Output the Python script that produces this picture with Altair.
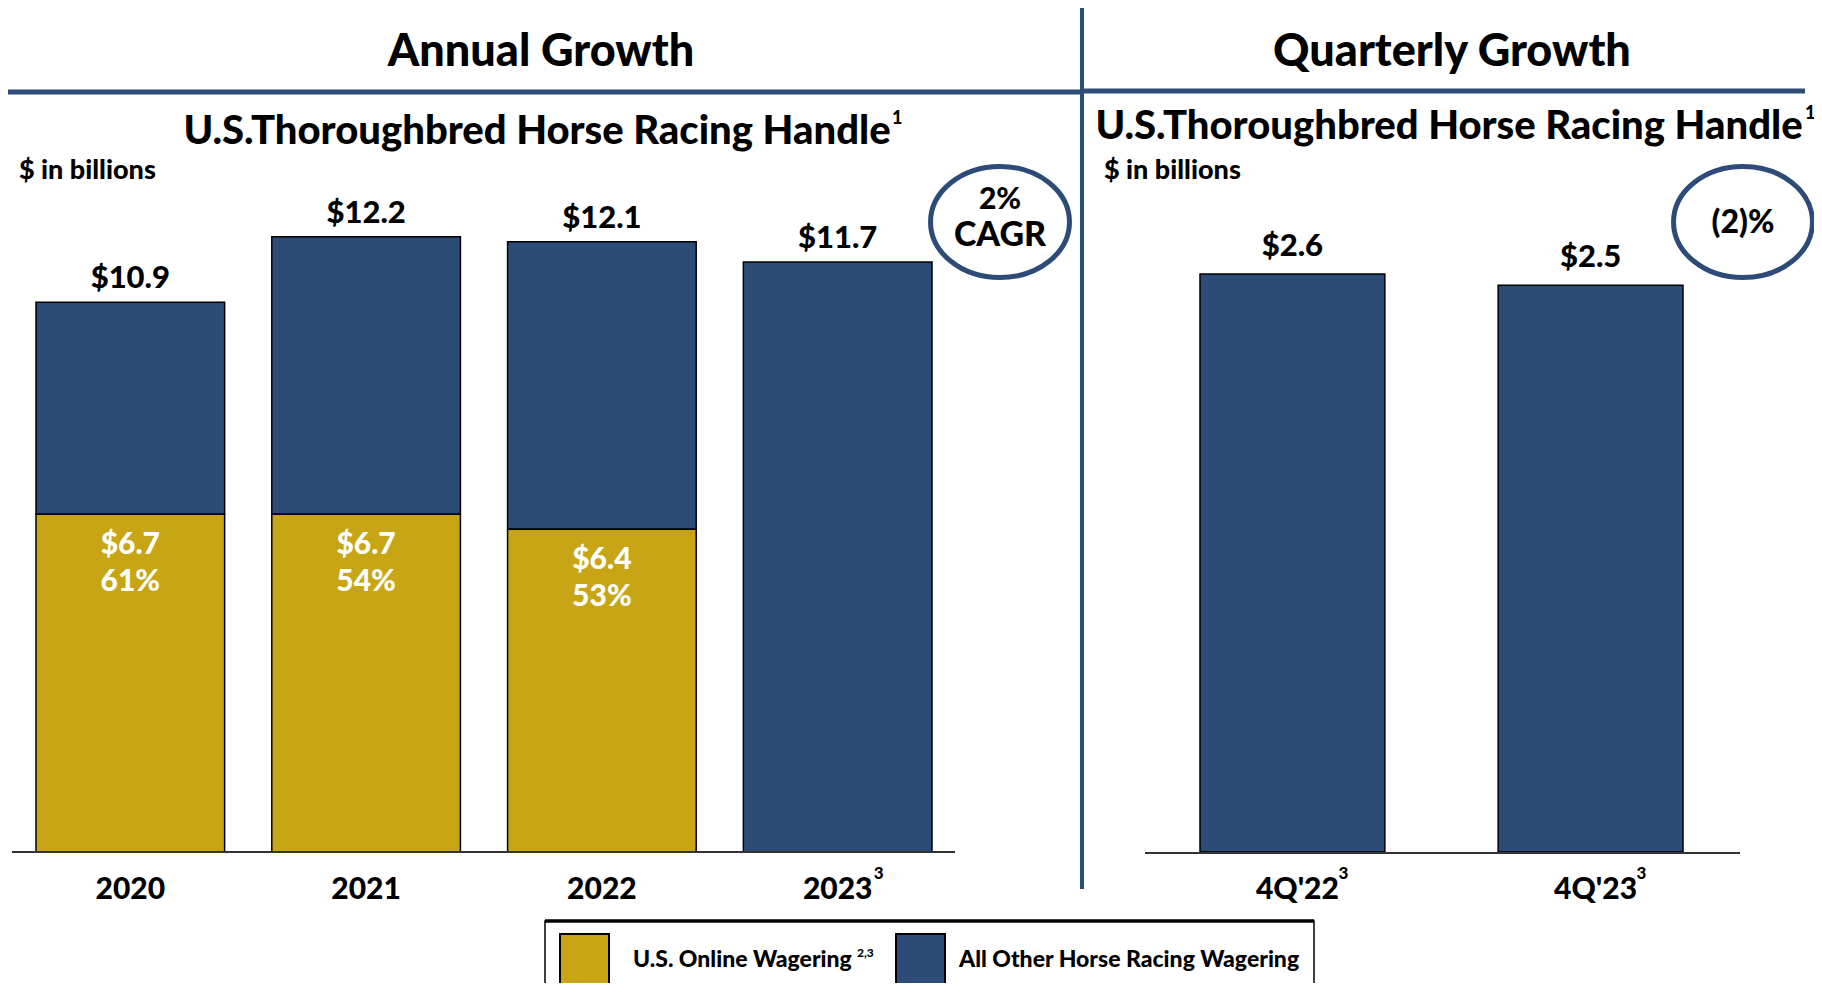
import altair as alt
import pandas as pd

# ---------------- data ----------------
years = ["2020", "2021", "2022", "2023"]
year_sup = ["", "", "", "3"]
total_handle = [10.9, 12.2, 12.1, 11.7]
online_handle = [6.7, 6.7, 6.4, 0.0]
online_share = ["61%", "54%", "53%", ""]

quarters = ["4Q'22", "4Q'23"]
quarter_sup = ["3", "3"]
quarter_handle = [2.58, 2.53]

FONT = "Lato"
W = 900
NAVY = "#2C4B76"
GOLD = "#C7A515"
LINE = "#2E4C78"

annual_df = pd.DataFrame({
    "year": years, "sup": year_sup, "total": total_handle,
    "online": online_handle, "share": online_share,
})
quarter_df = pd.DataFrame({"q": quarters, "sup": quarter_sup, "val": quarter_handle})

# ---------------- scales ----------------
xa = alt.X("year:N", scale=alt.Scale(domain=years, range=[28, 924], paddingInner=0.2, paddingOuter=0), axis=None)
ya_scale = alt.Scale(domain=[0, 14], range=[844, 138])
xq = alt.X("q:N", scale=alt.Scale(domain=quarters, range=[1192, 1675], paddingInner=0.38, paddingOuter=0), axis=None)
yq_scale = alt.Scale(domain=[0, 3], range=[844, 172])

base_a = alt.Chart(annual_df)
navy_a = base_a.mark_bar(color=NAVY, stroke="black", strokeWidth=1.5).encode(
    x=xa, y=alt.Y("total:Q", scale=ya_scale, axis=None), y2="online:Q")
gold_a = base_a.transform_filter("datum.online > 0").mark_bar(color=GOLD, stroke="black", strokeWidth=1.5).encode(
    x=xa, y=alt.Y("online:Q", scale=ya_scale, axis=None), y2=alt.datum(0))
tot_lbl = base_a.mark_text(font=FONT, fontWeight=W, fontSize=31, baseline="middle", dy=-23, color="black").encode(
    x=xa, y=alt.Y("total:Q", scale=ya_scale, axis=None), text=alt.Text("total:Q", format="$.1f"))
on_lbl = base_a.transform_filter("datum.online > 0").mark_text(
    font=FONT, fontWeight=W, fontSize=30, baseline="middle", dy=31, color="white").encode(
    x=xa, y=alt.Y("online:Q", scale=ya_scale, axis=None), text=alt.Text("online:Q", format="$.1f"))
share_lbl = base_a.transform_filter("datum.online > 0").mark_text(
    font=FONT, fontWeight=W, fontSize=30, baseline="middle", dy=68, color="white").encode(
    x=xa, y=alt.Y("online:Q", scale=ya_scale, axis=None), text="share:N")
xlab_a = base_a.mark_text(font=FONT, fontWeight=W, fontSize=30, baseline="middle").encode(
    x=xa, y=alt.value(882), text="year:N")
xsup_a = base_a.mark_text(font=FONT, fontWeight=W, fontSize=17, baseline="middle", align="left", dx=36).encode(
    x=xa, y=alt.value(866), text="sup:N")
annual = alt.layer(navy_a, gold_a, tot_lbl, on_lbl, share_lbl, xlab_a, xsup_a)

base_q = alt.Chart(quarter_df)
bars_q = base_q.mark_bar(color=NAVY, stroke="black", strokeWidth=1.5).encode(
    x=xq, y=alt.Y("val:Q", scale=yq_scale, axis=None), y2=alt.datum(0))
lbl_q = base_q.mark_text(font=FONT, fontWeight=W, fontSize=31, baseline="middle", dy=-27).encode(
    x=xq, y=alt.Y("val:Q", scale=yq_scale, axis=None), text=alt.Text("val:Q", format="$.1f"))
xlab_q = base_q.mark_text(font=FONT, fontWeight=W, fontSize=30, baseline="middle", dx=5).encode(
    x=xq, y=alt.value(882), text="q:N")
xsup_q = base_q.mark_text(font=FONT, fontWeight=W, fontSize=17, baseline="middle", align="left", dx=46).encode(
    x=xq, y=alt.value(866), text="sup:N")
quarterly = alt.layer(bars_q, lbl_q, xlab_q, xsup_q)


def txt(s, x, y, size, align="center", color="black"):
    return alt.Chart(pd.DataFrame({"t": [s]})).mark_text(
        font=FONT, fontWeight=W, fontSize=size, align=align, baseline="middle", color=color
    ).encode(text="t:N", x=alt.value(x), y=alt.value(y))


def rule(x, x2, y, y2, width, color):
    return alt.Chart(pd.DataFrame({"a": [0]})).mark_rule(color=color, strokeWidth=width).encode(
        x=alt.value(x), x2=alt.value(x2), y=alt.value(y), y2=alt.value(y2))


def box(x, x2, y, y2, fill, stroke, sw):
    return alt.Chart(pd.DataFrame({"a": [0]})).mark_rect(fill=fill, stroke=stroke, strokeWidth=sw).encode(
        x=alt.value(x), x2=alt.value(x2), y=alt.value(y), y2=alt.value(y2))


ELLIPSE = "M -1 0 A 1 0.8 0 1 0 1 0 A 1 0.8 0 1 0 -1 0 Z"


def ring(x, y):
    return alt.Chart(pd.DataFrame({"a": [0]})).mark_point(
        shape=ELLIPSE, size=19300, filled=False, stroke=NAVY, strokeWidth=5, opacity=1
    ).encode(x=alt.value(x), y=alt.value(y))


deco = [
    rule(0, 1074, 84, 84, 5, LINE),
    rule(1074, 1797, 83, 83, 5, LINE),
    rule(1074, 1074, 0, 881, 4, LINE),
    rule(4, 947, 844, 844, 2, "#333333"),
    rule(1137, 1732, 845, 845, 2, "#333333"),
    txt("Annual Growth", 533, 44, 45),
    txt("Quarterly Growth", 1444, 44, 45),
    txt("U.S.Thoroughbred Horse Racing Handle", 529, 124, 40),
    txt("1", 884, 111, 18, align="left"),
    txt("U.S.Thoroughbred Horse Racing Handle", 1441, 119, 40),
    txt("1", 1797, 106, 18, align="left"),
    txt("$ in billions", 11, 163, 27, align="left"),
    txt("$ in billions", 1096, 163, 27, align="left"),
    ring(992, 214),
    txt("2%", 992, 192, 30),
    txt("CAGR", 992, 228, 34),
    ring(1735, 214),
    txt("(2)%", 1735, 215, 32),
    box(537, 1306, 913, 990, "white", "black", 1.5),
    rule(537, 1306, 913, 913, 3.5, "black"),
    box(552, 601, 926, 976, GOLD, "black", 2),
    box(888, 937, 926, 976, NAVY, "black", 2),
    txt("U.S. Online Wagering", 625, 952, 23, align="left"),
    txt("2,3", 849, 945, 12, align="left"),
    txt("All Other Horse Racing Wagering", 951, 952, 23, align="left"),
]

chart = alt.layer(annual, quarterly, *deco).resolve_scale(
    x="independent", y="independent"
).properties(
    width=1806, height=975, autosize=alt.AutoSizeParams(type="none"), padding=0, background="white"
).configure_view(stroke=None)

chart.save("out.html", embed_options={"renderer": "svg", "actions": False})
